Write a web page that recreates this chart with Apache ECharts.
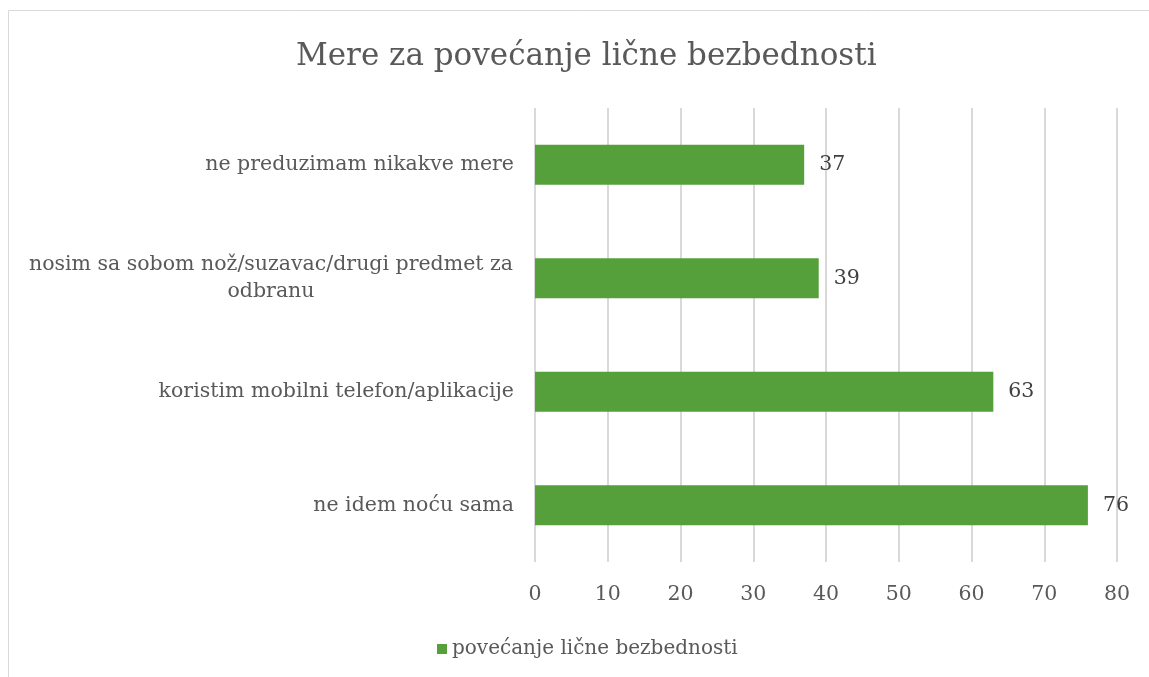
<!DOCTYPE html>
<html>
<head>
<meta charset="utf-8">
<script src="https://cdn.jsdelivr.net/npm/echarts@6/dist/echarts.min.js"></script>
<style>html,body{margin:0;padding:0;background:#fff}#c{width:1149px;height:677px}</style>
</head>
<body>
<div id="c"></div>
<script>
const titleText = 'Mere za povećanje lične bezbednosti';
const seriesName = 'povećanje lične bezbednosti';
const categories = ['ne idem noću sama', 'koristim mobilni telefon/aplikacije', 'nosim sa sobom nož/suzavac/drugi predmet za\nodbranu', 'ne preduzimam nikakve mere'];
const values = [76, 63, 39, 37];
const xTicks = [0, 10, 20, 30, 40, 50, 60, 70, 80];

const FONT = 'DejaVu Serif';
const TXT = '#595959';
const chart = echarts.init(document.getElementById('c'));
chart.setOption({
  backgroundColor: '#fff',
  animation: false,
  graphic: [{type: 'rect', shape: {x: 8.5, y: 10.5, width: 1300, height: 1000}, style: {fill: 'none', stroke: '#d9d9d9', lineWidth: 1}, silent: true}],
  title: {text: titleText, left: 291, top: 36, textStyle: {fontFamily: FONT, fontSize: 31, fontWeight: 'normal', color: TXT}},
  legend: {data: [seriesName], bottom: 13, left: 432, itemWidth: 10, itemHeight: 10, itemGap: 6, icon: 'rect',
    textStyle: {fontFamily: FONT, fontSize: 20, color: TXT}},
  grid: {left: 535, right: 32, top: 108, bottom: 115, containLabel: false},
  xAxis: {type: 'value', min: xTicks[0], max: xTicks[xTicks.length - 1], interval: 10,
    axisLine: {show: false}, axisTick: {show: false},
    splitLine: {lineStyle: {color: '#d9d9d9', width: 2}},
    axisLabel: {fontFamily: FONT, fontSize: 20.5, color: TXT, margin: 22}},
  yAxis: {type: 'category', data: categories,
    axisLine: {show: false}, axisTick: {show: false},
    axisLabel: {fontFamily: FONT, fontSize: 20.5, color: TXT, margin: 21, lineHeight: 27,
      formatter: function (v) {
        if (v.indexOf('\n') < 0) return v;
        return v.split('\n').map(function (s) { return '{m|' + s + '}'; }).join('\n');
      },
      rich: {m: {width: 486, align: 'center', fontFamily: FONT, fontSize: 20.5, color: TXT, lineHeight: 27}}}},
  series: [{name: seriesName, type: 'bar', data: values, barWidth: 40,
    itemStyle: {color: '#55A03A'},
    label: {show: true, position: 'right', distance: 15, fontFamily: FONT, fontSize: 20.5, color: '#404040'}}]
});
</script>
</body>
</html>
